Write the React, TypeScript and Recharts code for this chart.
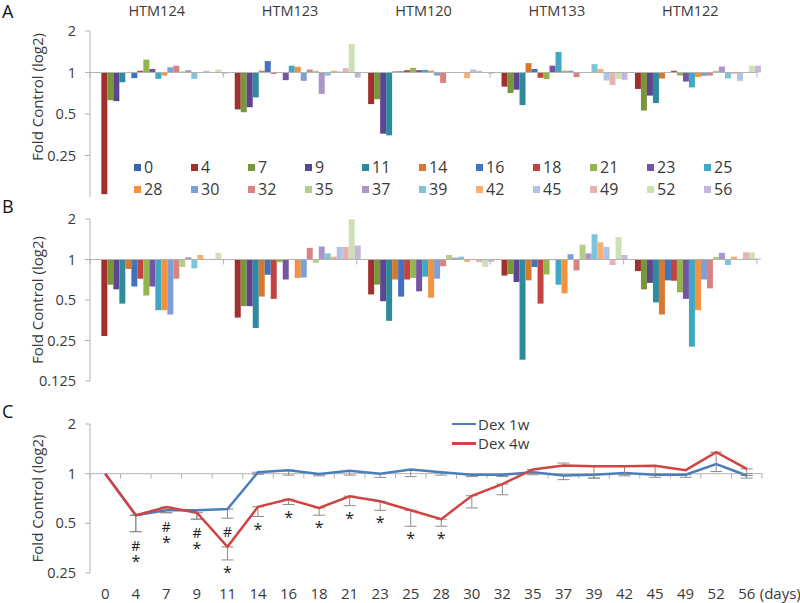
import {
  Bar,
  BarChart,
  ErrorBar,
  LabelList,
  Legend,
  Line,
  LineChart,
  ReferenceLine,
  XAxis,
  YAxis,
} from "recharts"

const cellLines = ["HTM124", "HTM123", "HTM120", "HTM133", "HTM122"]
const days = ["0", "4", "7", "9", "11", "14", "16", "18", "21", "23", "25", "28", "30", "32", "35", "37", "39", "42", "45", "49", "52", "56"]
const dayColors = [
  "#3A66A7", "#A0302D", "#78963A", "#5E4590", "#2E8B9E", "#D8782E",
  "#4273BF", "#C24440", "#92B54E", "#7554A3", "#3FA8C4", "#F4923E",
  "#7D9FD6", "#D98282", "#B4CE8A", "#A895C9", "#7FC4DA", "#F9AF72",
  "#AFC3E6", "#E6B3B2", "#CFE0B6", "#C3B8DB",
]

// fold of control, one row per day, columns in cellLines order
const panelA = [
  [1, 1, 1, 1, 1],
  [0.131, 0.54, 0.59, 0.79, 0.76],
  [0.63, 0.515, 0.64, 0.71, 0.53],
  [0.62, 0.56, 0.36, 0.75, 0.68],
  [0.85, 0.66, 0.35, 0.58, 0.6],
  [1.01, 1.03, 1.02, 1.17, 0.905],
  [0.91, 1.21, 1.02, 1.06, 1.0],
  [1.03, 0.98, 1.04, 0.915, 1.03],
  [1.24, 1.0, 1.08, 0.895, 0.95],
  [1.06, 0.88, 1.04, 1.12, 0.86],
  [0.9, 1.12, 1.045, 1.41, 0.78],
  [0.95, 1.1, 1.03, 1.03, 0.925],
  [1.09, 0.87, 0.95, 1.03, 0.945],
  [1.12, 1.05, 0.84, 0.925, 0.95],
  [1.02, 1.03, 1.0, 1.0, 1.03],
  [1.04, 0.7, 1.0, 1.0, 1.105],
  [0.9, 0.95, 1.0, 1.15, 0.905],
  [1.01, 1.03, 0.91, 1.06, 0.98],
  [1.03, 1.02, 1.05, 0.875, 0.87],
  [1.01, 1.075, 1.03, 0.81, 1.0],
  [1.05, 1.61, 1.0, 0.895, 1.12],
  [0.98, 0.92, 0.98, 0.885, 1.12],
]

const panelB = [
  [1, 1, 1, 1, 1],
  [0.27, 0.37, 0.55, 0.76, 0.82],
  [0.65, 0.45, 0.65, 0.78, 0.6],
  [0.6, 0.45, 0.49, 0.68, 0.67],
  [0.47, 0.31, 0.35, 0.18, 0.48],
  [0.85, 0.53, 0.71, 0.7, 0.39],
  [0.63, 0.77, 0.53, 0.88, 0.7],
  [0.72, 0.51, 0.71, 0.47, 0.695],
  [0.54, 0.955, 0.73, 0.775, 0.57],
  [0.63, 0.71, 0.58, 0.99, 0.51],
  [0.42, 1.0, 0.745, 0.65, 0.225],
  [0.42, 0.73, 0.52, 0.56, 0.42],
  [0.39, 0.735, 0.72, 1.095, 0.71],
  [0.72, 1.22, 0.89, 0.83, 0.61],
  [0.88, 0.945, 1.08, 1.29, 1.045],
  [1.04, 1.25, 1.03, 1.11, 1.12],
  [0.86, 1.11, 1.05, 1.54, 0.91],
  [1.08, 1.05, 0.96, 1.34, 1.05],
  [1.0, 1.24, 1.0, 1.24, 1.0],
  [0.99, 1.24, 0.955, 0.91, 1.13],
  [1.12, 1.99, 0.88, 1.47, 1.13],
  [0.99, 1.27, 0.96, 1.08, 1.02],
]

const dex1w = [1, 0.56, 0.6, 0.6, 0.61, 1.02, 1.05, 0.995, 1.04, 1.0, 1.06, 1.02, 0.985, 0.985, 1.02, 0.975, 0.985, 1.01, 0.985, 0.985, 1.145, 0.975]
const dex4w = [1, 0.56, 0.627, 0.58, 0.36, 0.63, 0.7, 0.62, 0.73, 0.68, 0.6, 0.53, 0.735, 0.865, 1.06, 1.12, 1.11, 1.11, 1.115, 1.05, 1.35, 1.07]
// lower / upper ends of the error bars (null = none)
const dex1wLow = [null, 0.445, 0.58, 0.53, 0.537, 0.99, 0.98, 0.97, 0.98, 0.95, 0.96, 0.98, 0.96, 0.96, 0.985, 0.92, 0.94, 0.97, 0.95, 0.95, null, 0.94]
const dex4wLow = [null, 0.445, 0.58, 0.53, 0.3, 0.55, 0.65, 0.56, 0.64, 0.6, 0.48, 0.48, 0.62, 0.745, 1.0, null, 0.94, 0.99, 1.0, null, 1.03, 1.0]
const dex4wHigh = [null, null, null, null, null, null, null, null, null, null, null, null, null, null, null, 1.16, null, null, null, null, null, null]
const hashMarks = ["", "#", "#", "#", "#", "", "", "", "", "", "", "", "", "", "", "", "", "", "", "", "", ""]
const starMarks = ["", "*", "*", "*", "*", "*", "*", "*", "*", "*", "*", "*", "", "", "", "", "", "", "", "", "", ""]
// treatment period bars at the top of panel C
const dexPeriods = [
  { name: "Dex 1w", level: 1.96, until: "7", color: "#4A7EBB" },
  { name: "Dex 4w", level: 1.49, until: "28", color: "#D04443" },
]
const ticksAB = [0.125, 0.25, 0.5, 1, 2]
const ticksC = [0.25, 0.5, 1, 2]

const font = "'Open Sans', sans-serif"
const axisGray = "#b3b3b3"
const textGray = "#3a3a3a"

const foldLabel = (v: number) => String(+(2 ** v).toFixed(3))

function barRows(values: number[][]) {
  return cellLines.map((cell, ci) => {
    const row: any = { cell }
    days.forEach((d, di) => {
      row["d" + d] = Math.log2(values[di][ci])
    })
    return row
  })
}

function errPair(v: number, low: number | null, high: number | null) {
  if (low == null && high == null) return null
  return [
    low == null ? 0 : Math.log2(v) - Math.log2(low),
    high == null ? 0 : Math.log2(high) - Math.log2(v),
  ]
}

const lineRows = days.map((day, i) => ({
  day,
  w1: Math.log2(dex1w[i]),
  w4: Math.log2(dex4w[i]),
  w1Err: errPair(dex1w[i], dex1wLow[i], null),
  w4Err: errPair(dex4w[i], dex4wLow[i], dex4wHigh[i]),
  hash: hashMarks[i],
  star: starMarks[i],
  hashAt: hashMarks[i] ? Math.log2(dex1wLow[i] as number) : null,
  starAt: starMarks[i] ? Math.log2(dex4wLow[i] as number) : null,
}))

function baselineWithTicks(n: number) {
  return (props: any) => {
    const { x1, x2, y1 } = props
    const step = (x2 - x1) / n
    const xs = Array.from({ length: n + 1 }, (_, i) => x1 + i * step)
    return (
      <g>
        <line x1={x1} x2={x2} y1={y1} y2={y1} stroke={axisGray} strokeWidth={1} />
        {xs.map((x, i) => (
          <line key={i} x1={x} x2={x} y1={y1} y2={y1 + 5} stroke={axisGray} strokeWidth={1} />
        ))}
      </g>
    )
  }
}

function axisTitle(dy: number) {
  return (props: any) => {
    const vb = props.viewBox
    const cx = vb.x + 37
    const cy = vb.y + vb.height / 2 + dy
    return (
      <text
        x={cx}
        y={cy}
        transform={`rotate(-90 ${cx} ${cy})`}
        textAnchor="middle"
        dominantBaseline="central"
        fontFamily={font}
        fontSize={15}
        fill={textGray}
      >
        Fold Control (log2)
      </text>
    )
  }
}

function BarLegend() {
  return (
    <div
      style={{
        display: "grid",
        gridTemplateColumns: "repeat(11, 57px)",
        lineHeight: "21.5px",
        fontFamily: font,
        fontSize: 16,
        color: textGray,
      }}
    >
      {days.map((d, i) => (
        <div key={d} style={{ display: "flex", alignItems: "center" }}>
          <span style={{ width: 7, height: 7, background: dayColors[i], marginRight: 3 }} />
          {d}
        </div>
      ))}
    </div>
  )
}

function DexLegend() {
  return (
    <div style={{ fontFamily: font, fontSize: 15, color: textGray, lineHeight: "19.3px" }}>
      {dexPeriods.map((p) => (
        <div key={p.name} style={{ display: "flex", alignItems: "center" }}>
          <span style={{ width: 24, height: 2.5, background: p.color, marginRight: 2 }} />
          {p.name}
        </div>
      ))}
    </div>
  )
}

function FoldBars({ values, height, margin, showCells, titleDy }: any) {
  return (
    <BarChart
      width={800}
      height={height}
      data={barRows(values)}
      margin={margin}
      barCategoryGap="4%"
      barGap={0}
    >
      <XAxis
        dataKey="cell"
        orientation="top"
        hide={!showCells}
        axisLine={false}
        tickLine={false}
        height={20}
        tickMargin={9}
        interval={0}
        tick={{ fontSize: 14.5, fill: textGray, fontFamily: font }}
      />
      <YAxis
        width={90}
        domain={[-3, 1]}
        ticks={ticksAB.map(Math.log2)}
        tickFormatter={foldLabel}
        allowDataOverflow
        axisLine={{ stroke: axisGray }}
        tickLine={{ stroke: axisGray }}
        tickSize={5}
        tickMargin={9}
        tick={{ fontSize: 14.5, fill: textGray, fontFamily: font }}
        label={{ content: axisTitle(titleDy) }}
      />
      {days.map((d, i) => (
        <Bar key={d} dataKey={"d" + d} fill={dayColors[i]} isAnimationActive={false} />
      ))}
      <ReferenceLine y={0} shape={baselineWithTicks(cellLines.length)} />
      {showCells && (
        <Legend
          layout="horizontal"
          verticalAlign="middle"
          align="center"
          content={BarLegend}
          wrapperStyle={{ top: 157, left: 134, width: 640 }}
        />
      )}
    </BarChart>
  )
}

function HashLabel(props: any) {
  const { x, y, value } = props
  if (!value || y == null) return null
  return (
    <text x={x} y={y + 19} textAnchor="middle" fontFamily={font} fontSize={14} fill="#222">
      {value}
    </text>
  )
}

function StarLabel(props: any) {
  const { x, y, value, index } = props
  if (!value || y == null) return null
  const stacked =
    hashMarks[index] &&
    Math.abs(Math.log2(dex1wLow[index] as number) - Math.log2(dex4wLow[index] as number)) < 0.2
  return (
    <text x={x} y={y + (stacked ? 35 : 18)} textAnchor="middle" fontFamily={font} fontSize={16} fill="#222">
      {value}
    </text>
  )
}

function DayTick(props: any) {
  const { x, y, payload, index } = props
  return (
    <g>
      <text x={x} y={y} dy="0.71em" textAnchor="middle" fontFamily={font} fontSize={15} fill={textGray}>
        {payload.value}
      </text>
      {index === days.length - 1 && (
        <text x={x + 13} y={y} dy="0.71em" textAnchor="start" fontFamily={font} fontSize={15} fill={textGray}>
          (days)
        </text>
      )}
    </g>
  )
}

function DexLines() {
  return (
    <LineChart width={800} height={208} data={lineRows} margin={{ top: 29, right: 38, bottom: 0, left: 0 }}>
      <XAxis
        xAxisId="cat"
        dataKey="day"
        scale="band"
        axisLine={false}
        tickLine={false}
        height={30}
        tickMargin={9}
        interval={0}
        tick={DayTick}
      />
      <XAxis xAxisId="num" type="number" domain={[-0.5, days.length - 0.5]} hide />
      <YAxis
        width={90}
        domain={[-2, 1]}
        ticks={ticksC.map(Math.log2)}
        tickFormatter={foldLabel}
        axisLine={{ stroke: axisGray }}
        tickLine={{ stroke: axisGray }}
        tickSize={5}
        tickMargin={9}
        tick={{ fontSize: 14.5, fill: textGray, fontFamily: font }}
        label={{ content: axisTitle(0) }}
      />
      <ReferenceLine xAxisId="cat" y={0} shape={baselineWithTicks(days.length)} />
      {dexPeriods.map((p) => (
        <ReferenceLine
          key={p.name}
          xAxisId="num"
          segment={[
            { x: -0.5, y: Math.log2(p.level) },
            { x: days.indexOf(p.until), y: Math.log2(p.level) },
          ]}
          stroke={p.color}
          strokeWidth={2}
        />
      ))}
      <Line
        xAxisId="cat"
        dataKey="w1"
        type="linear"
        stroke={dexPeriods[0].color}
        strokeWidth={2.5}
        dot={false}
        isAnimationActive={false}
      >
        <ErrorBar dataKey="w1Err" direction="y" width={6} stroke="#8c8c8c" strokeWidth={1} />
      </Line>
      <Line
        xAxisId="cat"
        dataKey="w4"
        type="linear"
        stroke={dexPeriods[1].color}
        strokeWidth={2.5}
        dot={false}
        isAnimationActive={false}
      >
        <ErrorBar dataKey="w4Err" direction="y" width={6} stroke="#8c8c8c" strokeWidth={1} />
      </Line>
      <Line xAxisId="cat" dataKey="hashAt" stroke="none" dot={false} activeDot={false} isAnimationActive={false}>
        <LabelList dataKey="hash" content={HashLabel} />
      </Line>
      <Line xAxisId="cat" dataKey="starAt" stroke="none" dot={false} activeDot={false} isAnimationActive={false}>
        <LabelList dataKey="star" content={StarLabel} />
      </Line>
      <Legend
        layout="horizontal"
        verticalAlign="middle"
        align="center"
        content={DexLegend}
        wrapperStyle={{ top: 19.5, left: 452, width: 120 }}
      />
    </LineChart>
  )
}

const panelLetter = (letter: string, top: number) => (
  <div
    style={{
      position: "absolute",
      left: 2,
      top,
      fontFamily: font,
      fontSize: 18,
      color: "#111",
      lineHeight: "22px",
    }}
  >
    {letter}
  </div>
)

export default function App() {
  return (
    <div style={{ position: "absolute", left: 0, top: 0, width: 800, height: 603, background: "#fff" }}>
      <div style={{ position: "absolute", left: 0, top: 0 }}>
        <FoldBars
          values={panelA}
          height={205}
          margin={{ top: 11, right: 43, bottom: 8, left: 0 }}
          showCells
          titleDy={-17}
        />
      </div>
      <div style={{ position: "absolute", left: 0, top: 200 }}>
        <FoldBars
          values={panelB}
          height={190}
          margin={{ top: 19, right: 43, bottom: 9, left: 0 }}
          showCells={false}
          titleDy={0}
        />
      </div>
      <div style={{ position: "absolute", left: 0, top: 395 }}>
        <DexLines />
      </div>
      {panelLetter("A", 0)}
      {panelLetter("B", 195)}
      {panelLetter("C", 400)}
    </div>
  )
}
